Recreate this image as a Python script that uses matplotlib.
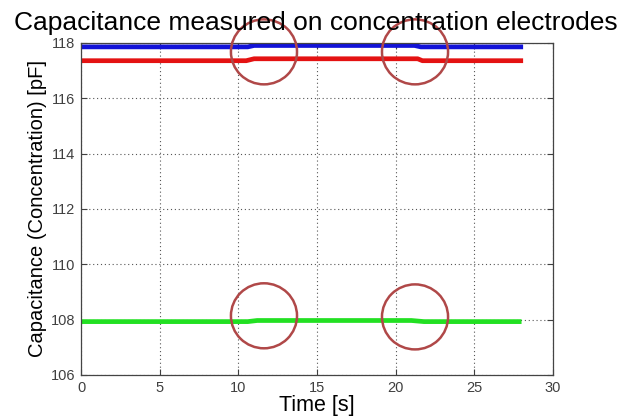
import matplotlib
matplotlib.use("Agg")
import matplotlib.pyplot as plt
from matplotlib.patches import Ellipse

plt.rcParams['font.family'] = ['Liberation Sans', 'DejaVu Sans']

# Data
t_blue = [0.0, 10.6, 11.0, 21.2, 21.6, 28.1]
c_blue = [117.86, 117.86, 117.91, 117.91, 117.86, 117.86]
t_red = [0.0, 10.5, 11.0, 21.4, 21.7, 28.1]
c_red = [117.36, 117.36, 117.43, 117.43, 117.36, 117.36]
t_green = [0.0, 10.6, 11.2, 21.0, 21.8, 28.0]
c_green = [107.93, 107.93, 107.97, 107.97, 107.93, 107.93]

circle_x = [11.63, 21.23, 11.63, 21.23]
circle_y = [117.68, 117.68, 108.14, 108.1]

x_ticks = [0, 5, 10, 15, 20, 25, 30]
y_ticks = [106, 108, 110, 112, 114, 116, 118]

W, H = 623, 418
L, R, T, B = 81, 553, 43, 375

fig = plt.figure(figsize=(W/100, H/100), dpi=100)
ax = fig.add_axes([L/W, 1-B/H, (R-L)/W, (B-T)/H])

ax.plot(t_blue, c_blue, color='#1212d8', lw=3.4, solid_capstyle='butt')
ax.plot(t_red, c_red, color='#e41212', lw=3.4, solid_capstyle='butt')
ax.plot(t_green, c_green, color='#22e022', lw=3.4, solid_capstyle='butt')

for cx, cy in zip(circle_x, circle_y):
    e = Ellipse((cx, cy), width=4.2, height=2.35, fill=False,
                edgecolor='#b04848', lw=1.8, clip_on=False, zorder=5)
    ax.add_patch(e)

ax.set_xlim(0, 30)
ax.set_ylim(106, 118)
ax.set_xticks(x_ticks)
ax.set_yticks(y_ticks)
ax.grid(True, linestyle=(0, (1, 2.5)), color='#555555', lw=0.8)
ax.tick_params(direction='in', length=4, labelsize=10.5, colors='#404040',
               top=True, right=True, pad=4)
for s in ax.spines.values():
    s.set_color('#444444')
    s.set_linewidth(0.9)

ax.set_xlabel('Time [s]', fontsize=15.5, labelpad=0)
ax.set_ylabel('Capacitance (Concentration) [pF]', fontsize=14.5, labelpad=3)
fig.text(14/W, 1-30/H, 'Capacitance measured on concentration electrodes',
         fontsize=19.0, ha='left', va='baseline')

fig.savefig('out.png', dpi=100)
